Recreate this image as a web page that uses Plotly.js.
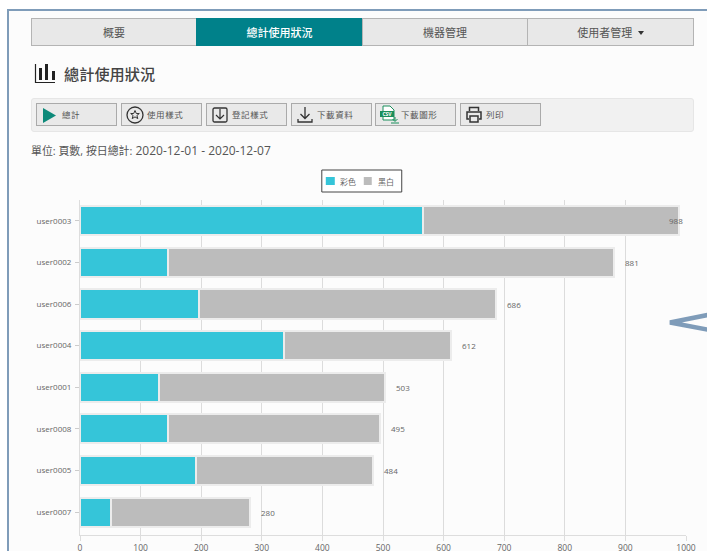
<!DOCTYPE html>
<html><head><meta charset="utf-8">
<script src="https://cdn.plot.ly/plotly-3.0.1.min.js"></script>
<style>
html,body{margin:0;padding:0;background:#fff;width:707px;height:551px;overflow:hidden}
body{position:relative;font-family:"Open Sans","Noto Sans CJK TC",sans-serif;color:#444}
#frame{position:absolute;left:7px;top:9px;width:700px;height:542px;background:#fcfcfc;border-left:2px solid #7f9cb9;border-top:2px solid #7f9cb9;box-sizing:border-box}
#chart{position:absolute;left:0;top:0;width:707px;height:551px}
.abs{position:absolute;box-sizing:border-box}
.tab{position:absolute;top:18px;height:28px;background:#e8e8e8;border:1px solid #b4b4b4;font:11px/26px "Noto Sans CJK TC";text-align:center;color:#555;box-sizing:border-box}
.tab.on{background:#00818a;color:#fff;border-color:#00818a;font-weight:500}
.caret{display:inline-block;width:0;height:0;border-left:3.5px solid transparent;border-right:3.500px solid transparent;border-top:4px solid #333;margin-left:3px;vertical-align:2px}
.btn{position:absolute;top:103px;height:23px;background:#e9e9e9;border:1px solid #aaa;font:8.5px/21px "Noto Sans CJK TC";color:#555;box-sizing:border-box;width:81px}
.btn span{position:absolute;left:25px;top:0;white-space:nowrap;letter-spacing:.6px}
.btn svg{position:absolute;left:3px;top:1px}
</style></head><body>
<div id="frame"></div>
<div class="tab" style="left:31px;width:166px">概要</div>
<div class="tab on" style="left:196px;width:167px">總計使用狀況</div>
<div class="tab" style="left:362px;width:166px">機器管理</div>
<div class="tab" style="left:527px;width:167px">使用者管理 <span class="caret"></span></div>
<svg class="abs" style="left:34px;top:62px" width="24" height="22"><path d="M1.500 2V20.500H21" fill="none" stroke="#222" stroke-width="1.2"/><rect x="5" y="6" width="3" height="12" fill="#222"/><rect x="11" y="2" width="3" height="16" fill="#222"/><rect x="18" y="9" width="3" height="9" fill="#222"/></svg>
<div class="abs" style="left:64px;top:62px;font:500 15.2px/22px 'Noto Sans CJK TC';color:#444;white-space:nowrap">總計使用狀況</div>
<div class="abs" style="left:31px;top:98px;width:663px;height:34px;background:#f1f1f1;border:1px solid #e6e6e6;border-radius:3px"></div>
<div class="btn" style="left:36px"><svg width="20" height="20"><path d="M3 3L16 10.500L3 18Z" fill="#0d8a7a"/></svg><span>總計</span></div>
<div class="btn" style="left:121px"><svg width="20" height="20"><circle cx="10" cy="10" r="8" fill="none" stroke="#333" stroke-width="1.3"/><path d="M10 5.500l1.300 3h3l-2.400 2 .9 3.100-2.800-1.700-2.800 1.700.9-3.100-2.400-2h3z" fill="none" stroke="#333"/></svg><span>使用樣式</span></div>
<div class="btn" style="left:206px"><svg width="20" height="20"><rect x="3" y="3" width="14" height="14" rx="1.500" fill="none" stroke="#333" stroke-width="1.300"/><path d="M10 4V14M6 10l4 4 4-4" fill="none" stroke="#333" stroke-width="1.200"/></svg><span>登記樣式</span></div>
<div class="btn" style="left:291px"><svg width="20" height="20"><path d="M10 2V13M5.500 9l4.500 4.500L14.500 9M3 14v3h14v-3" fill="none" stroke="#333" stroke-width="1.300"/></svg><span>下載資料</span></div>
<div class="btn" style="left:375px"><svg width="22" height="20"><path d="M4 1H11L15 5V15H4Z" fill="#fff" stroke="#1a8f5c"/><rect x="1" y="6" width="14" height="6" fill="#1a8f5c"/><text x="8" y="11" font-size="5" font-weight="700" fill="#fff" text-anchor="middle" font-family="Open Sans">CSV</text><path d="M16 12v4M13.500 14l2.500 2.500 2.500-2.500M12 18h8" fill="none" stroke="#1a8f5c"/></svg><span style="left:25px">下載圖形</span></div>
<div class="btn" style="left:460px"><svg width="20" height="20"><path d="M5.500 6V2.500H14.500V6M5 14H3V7H17V14H15M6 11H14V17H6Z" fill="none" stroke="#333" stroke-width="1.500"/></svg><span>列印</span></div>
<div class="abs" style="left:31px;top:142px;font:12px/18px 'Open Sans','Noto Sans CJK TC';color:#555;white-space:nowrap"><span style="font-size:10.9px">單位: 頁數, 按日總計:</span> 2020-12-01 - 2020-12-07</div>
<div id="chart"></div>
<svg class="abs" style="left:660px;top:305px" width="47" height="35"><polyline points="50,9.500 10,17.500 50,25" fill="none" stroke="#7f9cb9" stroke-width="4.500"/></svg>
<script>
const users = ['user0003','user0002','user0006','user0004','user0001','user0008','user0005','user0007'];
const colorPages = [566,146,197,336,131,146,192,51];
const totals = [988,881,686,612,503,495,484,280];
const monoPages = [422,735,489,276,372,349,292,229];
const seriesNames = ['彩色','黑白'];
const seriesColors = ['#35c5d9','#bcbcbc'];
const tickValues = [0,100,200,300,400,500,600,700,800,900,1000];

const W=707,H=551,M={l:80,r:20.5,t:200,b:16};
const px=x=>(x-M.l)/(W-M.l-M.r), py=y=>1-(y-M.t)/(H-M.t-M.b);
const rect=(x0,y0,x1,y1,fill,line)=>({type:'rect',xref:'paper',yref:'paper',x0:px(x0),x1:px(x1),y0:py(y1),y1:py(y0),
  fillcolor:fill,line:line?{color:line,width:1}:{width:0}});
const label=(x,y,text)=>({xref:'paper',yref:'paper',x:px(x),y:py(y),text,showarrow:false,xanchor:'left',yanchor:'middle',
  font:{size:8,color:'#666',family:'Noto Sans CJK TC'}});
const bar = (name, x, color) => ({type:'bar',orientation:'h',name,y:users,x,
  marker:{color,line:{color:'#ececec',width:2}},hoverinfo:'skip'});
const notes = users.map((u,i)=>({x:totals[i],y:u,text:String(totals[i]),showarrow:false,
  xanchor:'left',xshift:totals[i]>950?-12:9,font:{size:8,color:'#666',family:'Open Sans'}}));
Plotly.newPlot('chart',[bar(seriesNames[0],colorPages,seriesColors[0]),bar(seriesNames[1],monoPages,seriesColors[1])],{
  width:W,height:H,barmode:'stack',bargap:0.3,
  paper_bgcolor:'rgba(0,0,0,0)',plot_bgcolor:'rgba(0,0,0,0)',
  margin:{...M,pad:0},
  font:{family:'Open Sans, Noto Sans CJK TC',size:8.5,color:'#666'},
  xaxis:{range:[0,1000],tickvals:tickValues,ticks:'outside',ticklen:5,tickcolor:'#ddd',gridcolor:'#dcdcdc',gridwidth:1,
    showline:true,linecolor:'#ddd',linewidth:1,zeroline:false,tickfont:{size:8.5,color:'#666'}},
  yaxis:{type:'category',range:[7.55,-0.5],ticks:'outside',ticklen:4,tickcolor:'#ccc',showgrid:false,
    showline:true,linecolor:'#ddd',zeroline:false,tickfont:{size:8,color:'#666'},ticklabelstandoff:2},
  showlegend:false,
  shapes:[rect(322,170,402,192,'#fff','#444'),rect(326,177,335,185,seriesColors[0]),rect(364,177,372,185,seriesColors[1])],
  annotations:[...notes,label(338,181,seriesNames[0]),label(376,181,seriesNames[1])]
},{displayModeBar:false,staticPlot:true});
</script>
</body></html>
